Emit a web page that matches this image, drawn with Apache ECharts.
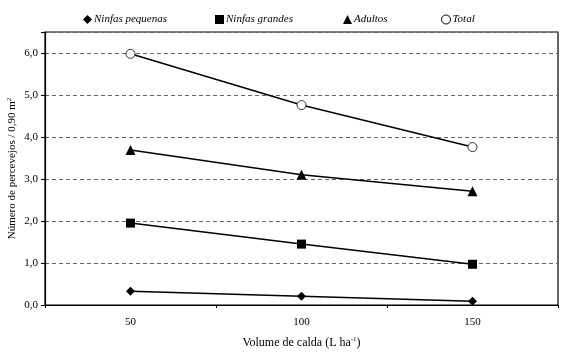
<!DOCTYPE html>
<html><head><meta charset="utf-8">
<script src="https://cdn.jsdelivr.net/npm/echarts@6/dist/echarts.min.js"></script>
<style>html,body{margin:0;padding:0;background:#fff}#c{width:566px;height:356px}</style>
</head><body><div id="c"></div>
<script>
const categories = ['50', '100', '150'];
const ninfasPequenas = [0.33, 0.21, 0.09];
const ninfasGrandes = [1.95, 1.45, 0.97];
const adultos = [3.69, 3.10, 2.71];
const total = [5.98, 4.76, 3.76];
const seriesNames = ['Ninfas pequenas', 'Ninfas grandes', 'Adultos', 'Total'];
const yTicks = [0, 1, 2, 3, 4, 5, 6];

const font = 'Liberation Serif';
const chart = echarts.init(document.getElementById('c'), null, {renderer: 'canvas'});
const legendPos = [78, 210, 338, 436];
const symbols = ['diamond', 'rect', 'triangle', 'circle'];
const sizes = [9, 9, 10, 9];
const datas = [ninfasPequenas, ninfasGrandes, adultos, total];

chart.setOption({
  animation: false,
  backgroundColor: '#fff',
  textStyle: {fontFamily: font},
  legend: seriesNames.map((n, i) => ({
    data: [{name: n, icon: symbols[i]}],
    left: legendPos[i], top: 9,
    itemWidth: 9, itemHeight: 9, itemGap: 2,
    itemStyle: i === 3 ? {color: '#fff', borderColor: '#000', borderWidth: 1} : undefined,
    textStyle: {fontFamily: font, fontStyle: 'italic', fontSize: 11, color: '#000', padding: [0, 0, 0, -3]}
  })),
  grid: {left: 45, right: 8, top: 32, bottom: 51, show: true, borderColor: '#000', borderWidth: 1.2,
    containLabel: false, outerBoundsMode: 'none'},
  xAxis: {
    type: 'category', data: categories, boundaryGap: true,
    name: 'Volume de calda (L ha{s|-1})', nameLocation: 'middle', nameGap: 31, nameMoveOverlap: false,
    nameTextStyle: {fontFamily: font, fontSize: 12, color: '#000', rich: {s: {fontSize: 7, padding: [0, 0, 6, 0], fontFamily: font, color: '#000'}}},
    axisLine: {lineStyle: {color: '#000', width: 1.2}},
    axisTick: {show: true, length: 3, inside: false, lineStyle: {color: '#000'}},
    axisLabel: {fontFamily: font, fontSize: 11, color: '#000', margin: 12}
  },
  yAxis: {
    type: 'value', min: 0, max: 6.5, interval: 1,
    name: 'Número de percevejos / 0,90 m{s|2}', nameLocation: 'middle', nameRotate: 90, nameGap: 26, nameMoveOverlap: false,
    nameTextStyle: {fontFamily: font, fontSize: 11, color: '#000', rich: {s: {fontSize: 7, padding: [0, 0, 6, 0], fontFamily: font, color: '#000'}}},
    axisLine: {show: true, lineStyle: {color: '#000', width: 1.2}},
    axisTick: {show: true, length: 4, lineStyle: {color: '#000'}},
    axisLabel: {fontFamily: font, fontSize: 11, color: '#000', margin: 7,
      formatter: v => (yTicks.indexOf(v) >= 0 ? v.toFixed(1).replace('.', ',') : '')},
    splitLine: {show: true, lineStyle: {color: '#666', type: [4, 3], width: 1}}
  },
  series: seriesNames.map((n, i) => ({
    name: n, type: 'line', data: datas[i],
    symbol: symbols[i], symbolSize: sizes[i],
    lineStyle: {color: '#000', width: 1.5},
    itemStyle: i === 3 ? {color: '#fff', borderColor: '#333', borderWidth: 1} : {color: '#000', borderWidth: 0},
    z: 3
  }))
});
</script></body></html>
